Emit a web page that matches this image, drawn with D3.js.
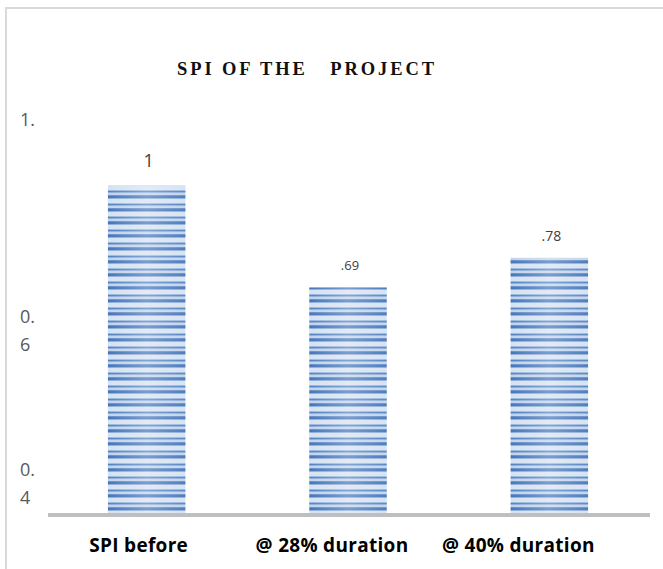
<!DOCTYPE html>
<html>
<head>
<meta charset="utf-8">
<script src="https://cdn.jsdelivr.net/npm/d3@7"></script>
<style>
  body { margin: 0; background: #fff; }
  svg { display: block; }
</style>
</head>
<body>
<div id="chart"></div>
<script>
const categories = ["SPI before", "@ 28% duration", "@ 40% duration"];
const values = [1, 0.69, 0.78];
const valueLabels = ["1", ".69", ".78"];
// axis labels as they show in the picture (wrapped / cut)
const yTickLabels = [["1."], ["0.", "6"], ["0.", "4"]];
const yTickValues = [1.2, 0.6, 0.134];

const width = 663, height = 569;
const base = 514;

const svg = d3.select("#chart").append("svg")
  .attr("width", width)
  .attr("height", height);

const defs = svg.append("defs");

// striped fill
const pat = defs.append("pattern")
  .attr("id", "stripes")
  .attr("patternUnits", "userSpaceOnUse")
  .attr("width", 10)
  .attr("height", 13);
const rows = [
  [0, 1, "#6690c9"],
  [1, 2, "#4677bb"],
  [3, 1, "#8eaed9"],
  [4, 4, "#d6e2f2"],
  [8, 1, "#9ab8df"],
  [9, 1, "#5283c2"],
  [10, 1, "#8eaed9"],
  [11, 2, "#c1d3ec"]
];
pat.selectAll("rect").data(rows).join("rect")
  .attr("x", 0).attr("y", d => d[0])
  .attr("width", 10).attr("height", d => d[1])
  .attr("fill", d => d[2]);

const shine = defs.append("linearGradient")
  .attr("id", "shine")
  .attr("x1", "0%").attr("x2", "100%");
shine.append("stop").attr("offset", "0%").attr("stop-color", "#fff").attr("stop-opacity", 0.0);
shine.append("stop").attr("offset", "50%").attr("stop-color", "#fff").attr("stop-opacity", 0.28);
shine.append("stop").attr("offset", "100%").attr("stop-color", "#fff").attr("stop-opacity", 0.05);

// frame (left + top edges only visible)
svg.append("path")
  .attr("d", `M6,${height} V8 H${width}`)
  .attr("fill", "none")
  .attr("stroke", "#d9d9d9")
  .attr("stroke-width", 2);

const x = d3.scalePoint().domain(categories).range([46, 650]).padding(0.5);
const y = d3.scaleLinear().domain([0, 1.2]).range([base, 120]);
const barW = x.step() * 0.385;

// title
svg.append("text")
  .attr("x", 307).attr("y", 75)
  .attr("text-anchor", "middle")
  .attr("font-family", "Liberation Serif, serif")
  .attr("font-weight", "bold")
  .attr("font-size", 18.5)
  .attr("letter-spacing", 2.9)
  .attr("fill", "#111")
  .attr("xml:space", "preserve")
  .text("SPI OF THE   PROJECT");

// y tick labels
const yt = svg.append("g")
  .attr("font-family", "Open Sans, sans-serif")
  .attr("font-size", 18)
  .attr("fill", "#595959");
yTickValues.forEach((v, i) => {
  const t = yt.append("text")
    .attr("x", 20)
    .attr("y", y(v) + 6);
  yTickLabels[i].forEach((line, j) => {
    t.append("tspan").attr("x", 20).attr("dy", j ? 28 : 0).text(line);
  });
});

// bars
const bars = svg.append("g");
bars.selectAll("rect.bar").data(values).join("rect")
  .attr("class", "bar")
  .attr("x", (d, i) => x(categories[i]) - barW / 2)
  .attr("y", d => y(d))
  .attr("width", barW)
  .attr("height", d => base - y(d))
  .attr("fill", "url(#stripes)");
bars.selectAll("rect.shine").data(values).join("rect")
  .attr("class", "shine")
  .attr("x", (d, i) => x(categories[i]) - barW / 2)
  .attr("y", d => y(d))
  .attr("width", barW)
  .attr("height", d => base - y(d))
  .attr("fill", "url(#shine)");

// value labels
const valSize = [18, 13, 14];
svg.append("g")
  .attr("font-family", "Open Sans, sans-serif")
  .attr("fill", "#404040")
  .attr("text-anchor", "middle")
  .selectAll("text").data(values).join("text")
  .attr("x", (d, i) => x(categories[i]) + 2)
  .attr("y", (d, i) => y(d) - (i ? 17 : 19))
  .attr("font-size", (d, i) => valSize[i])
  .text((d, i) => valueLabels[i]);

// baseline
svg.append("line")
  .attr("x1", 48).attr("x2", 650)
  .attr("y1", base + 1).attr("y2", base + 1)
  .attr("stroke", "#bfbfbf")
  .attr("stroke-width", 4);

// category labels (they sit a bit left of the bar centres)
const labelNudge = [-8, -16, -31];
svg.append("g")
  .attr("font-family", "Open Sans, sans-serif")
  .attr("font-weight", "bold")
  .attr("font-size", 19)
  .attr("letter-spacing", 0.3)
  .attr("fill", "#000")
  .attr("text-anchor", "middle")
  .selectAll("text").data(categories).join("text")
  .attr("x", (d, i) => x(d) + labelNudge[i])
  .attr("y", 552)
  .text(d => d);
</script>
</body>
</html>
